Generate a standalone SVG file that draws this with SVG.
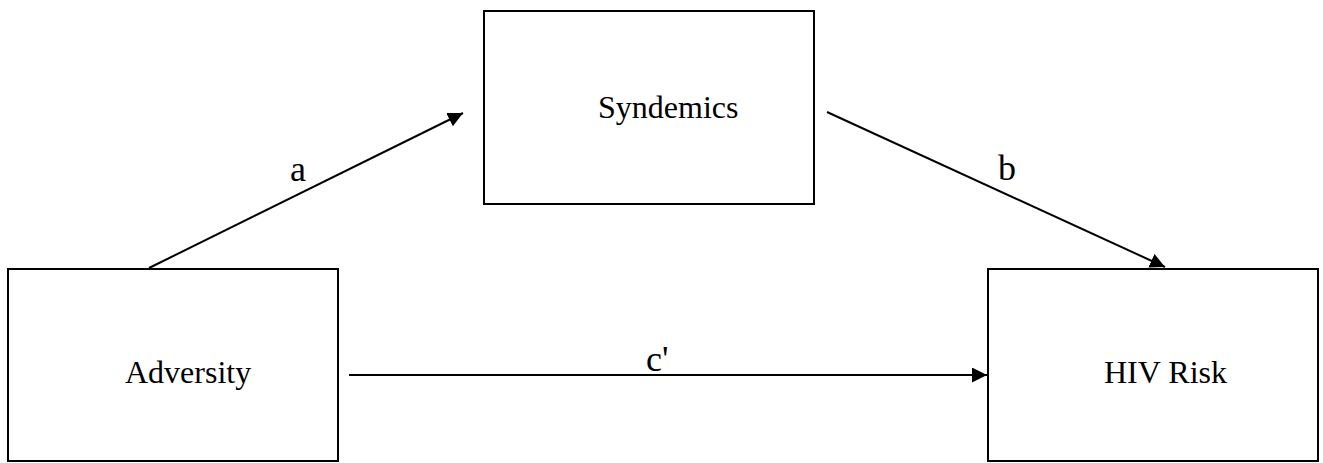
<svg xmlns="http://www.w3.org/2000/svg" width="1323" height="463" viewBox="0 0 1323 463">
  <style>
    .box { fill: #ffffff; stroke: #000000; stroke-width: 2; }
    .lbl { font-family: "Liberation Serif", "Times New Roman", serif; font-size: 32px; fill: #000000; }
    .path-lbl { font-family: "Liberation Serif", "Times New Roman", serif; font-size: 36px; fill: #000000; }
    .edge { stroke: #000000; stroke-width: 2; fill: none; marker-end: url(#head); }
  </style>
  <defs>
    <marker id="head" markerUnits="userSpaceOnUse" markerWidth="16" markerHeight="16" refX="15" refY="7.5" orient="auto">
      <path d="M0,0 L15,7.5 L0,15 Z" fill="#000000"/>
    </marker>
  </defs>
  <rect width="1323" height="463" fill="#ffffff"/>

  <g id="adversity">
    <rect class="box" x="8" y="269" width="330" height="192"/>
    <text class="lbl" x="125" y="383">Adversity</text>
  </g>

  <g id="syndemics">
    <rect class="box" x="484" y="11" width="330" height="193"/>
    <text class="lbl" x="598" y="118">Syndemics</text>
  </g>

  <g id="hiv-risk">
    <rect class="box" x="988" y="269" width="330" height="192"/>
    <text class="lbl" x="1104" y="383">HIV Risk</text>
  </g>

  <g id="connectors">
    <line class="edge" x1="149" y1="268" x2="463" y2="113"/>
    <line class="edge" x1="827" y1="112" x2="1165" y2="267"/>
    <line class="edge" x1="349" y1="375" x2="987" y2="375"/>
    <text class="path-lbl" x="290" y="181">a</text>
    <text class="path-lbl" x="998" y="180">b</text>
    <text class="path-lbl" x="646" y="371">c'</text>
  </g>
</svg>
